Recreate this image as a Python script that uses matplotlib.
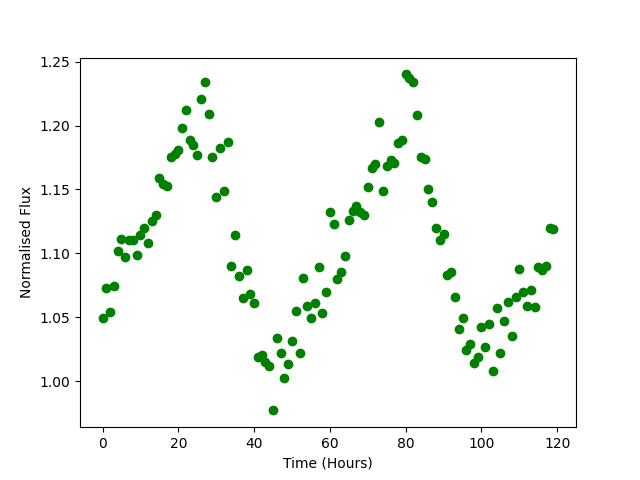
import numpy as np
import matplotlib
matplotlib.use("Agg")
import matplotlib.pyplot as plt

# hours of observation
time = np.arange(120)

flux = [
    1.049, 1.073, 1.054, 1.074, 1.102, 1.111, 1.097, 1.110, 1.110, 1.099,
    1.114, 1.120, 1.108, 1.125, 1.130, 1.159, 1.154, 1.153, 1.175, 1.178,
    1.181, 1.198, 1.212, 1.189, 1.185, 1.177, 1.221, 1.234, 1.209, 1.175,
    1.144, 1.182, 1.149, 1.187, 1.090, 1.114, 1.082, 1.065, 1.087, 1.068,
    1.061, 1.019, 1.020, 1.015, 1.012, 0.977, 1.034, 1.022, 1.002, 1.013,
    1.031, 1.055, 1.022, 1.081, 1.059, 1.049, 1.061, 1.089, 1.053, 1.070,
    1.132, 1.123, 1.080, 1.085, 1.098, 1.126, 1.133, 1.137, 1.132, 1.130,
    1.152, 1.167, 1.170, 1.203, 1.149, 1.168, 1.173, 1.171, 1.186, 1.189,
    1.240, 1.237, 1.234, 1.208, 1.175, 1.174, 1.150, 1.140, 1.120, 1.110,
    1.115, 1.083, 1.085, 1.066, 1.041, 1.049, 1.024, 1.029, 1.014, 1.019,
    1.042, 1.027, 1.045, 1.008, 1.057, 1.022, 1.047, 1.062, 1.035, 1.066,
    1.088, 1.070, 1.059, 1.071, 1.058, 1.089, 1.087, 1.090, 1.120, 1.119,
]

plt.figure(figsize=(6.4, 4.8), dpi=100)
plt.plot(time, flux, 'go')
plt.xlabel('Time (Hours)')
plt.ylabel('Normalised Flux')
plt.savefig('out.png')
